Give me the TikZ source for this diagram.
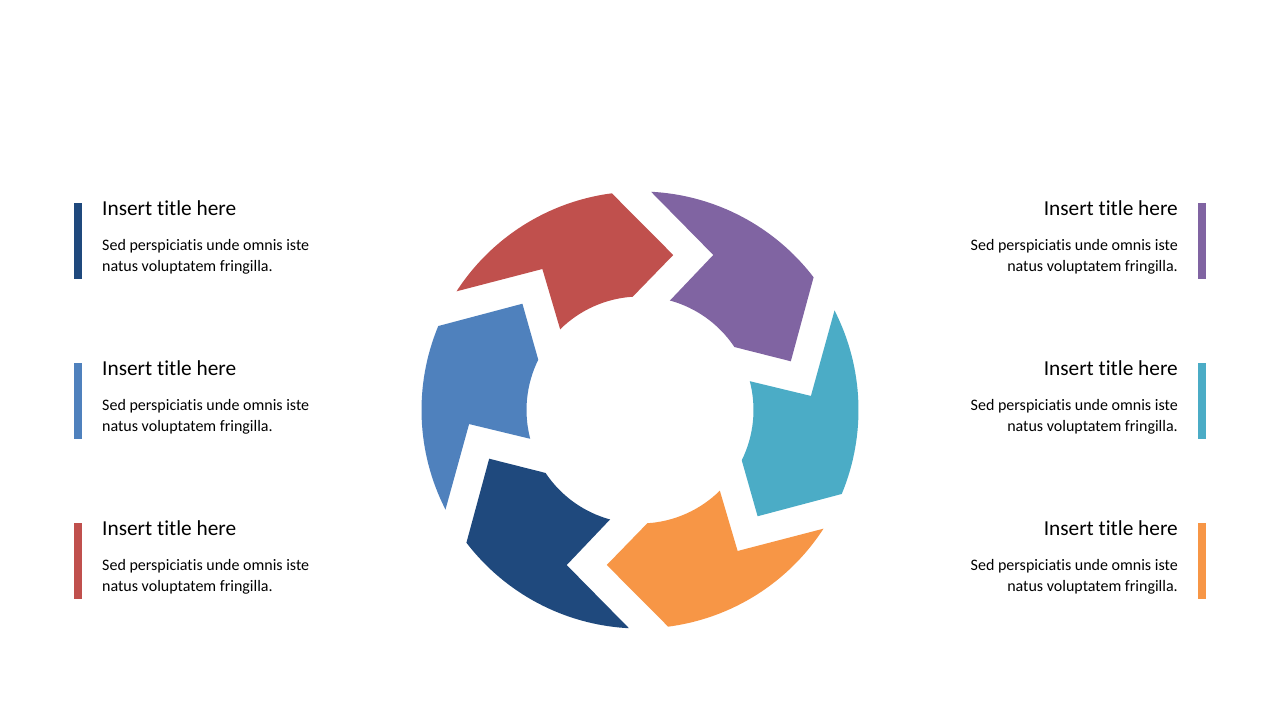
\documentclass[tikz,border=0pt]{standalone}
\usepackage{fontspec}
\setmainfont{Carlito}[RawFeature={-liga;-clig;-calt;-dlig}]
\definecolor{cred}{HTML}{C0504D}
\definecolor{cpurple}{HTML}{8064A2}
\definecolor{cteal}{HTML}{4BACC6}
\definecolor{corange}{HTML}{F79646}
\definecolor{cdblue}{HTML}{1F497D}
\definecolor{cblue}{HTML}{4F81BD}
\begin{document}
\begin{tikzpicture}[x=1pt,y=1pt,
  ttl/.style={font=\fontsize{21.33}{25}\selectfont, inner sep=0pt, text=black},
  bdy/.style={font=\fontsize{16}{21}\selectfont, inner sep=0pt, text=black}]
\useasboundingbox (0,0) rectangle (1280,720);
\fill[white] (0,0) rectangle (1280,720);
% ring of arrows
\foreach \k/\c in {0/cred,1/cpurple,2/cteal,3/corange,4/cdblue,5/cblue} {
  \fill[\c, shift={(640,310)}, rotate=-60*\k]
    (97.4:218.5pt) -- (77.9:158.5pt) -- (93.7:113.5pt)
    arc[start angle=93.7, end angle=134.7, radius=113.5pt]
    -- (124.7:171.5pt) -- (147.1:218.5pt)
    arc[start angle=147.1, end angle=97.4, radius=218.5pt] -- cycle;
}
% left blocks
\foreach \t/\c/\n in {203/cdblue/1, 363/cblue/2, 523/cred/3} {
  \fill[\c] (74,{720-\t}) rectangle (82,{720-\t-76});
  \node[ttl, anchor=base west] (lt\n) at (102,{720-\t-13}) {Insert title here};
  \node[bdy, anchor=base west] (lba\n) at (102,{720-\t-47.5}) {Sed perspiciatis unde omnis iste};
  \node[bdy, anchor=base west] (lbb\n) at (102,{720-\t-68.5}) {natus voluptatem fringilla.};
}
% right blocks
\foreach \t/\c/\n in {203/cpurple/1, 363/cteal/2, 523/corange/3} {
  \fill[\c] (1197.5,{720-\t}) rectangle (1206,{720-\t-76});
  \node[ttl, anchor=base east] (rt\n) at (1178,{720-\t-13}) {Insert title here};
  \node[bdy, anchor=base east] (rba\n) at (1178,{720-\t-47.5}) {Sed perspiciatis unde omnis iste};
  \node[bdy, anchor=base east] (rbb\n) at (1178,{720-\t-68.5}) {natus voluptatem fringilla.};
}
\end{tikzpicture}
\end{document}
